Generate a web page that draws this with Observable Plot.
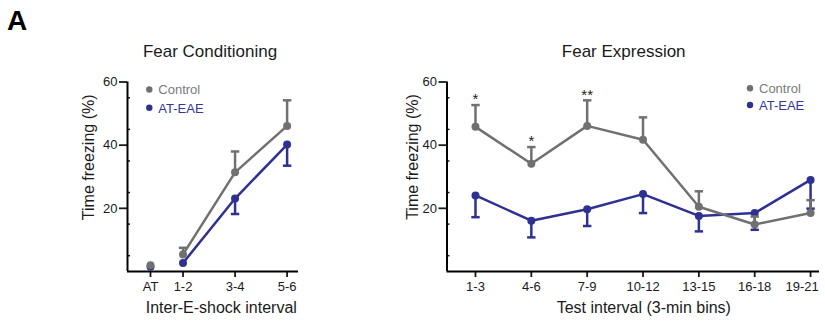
<!DOCTYPE html>
<html><head><meta charset="utf-8">
<script src="https://cdn.jsdelivr.net/npm/d3@7"></script>
<script src="https://cdn.jsdelivr.net/npm/@observablehq/plot@0.6"></script>
<style>
body{margin:0;background:#fff;}
#wrap{position:relative;width:825px;height:328px;overflow:hidden;background:#fff;}
#wrap svg{position:absolute;top:0;}
</style></head><body><div id="wrap"></div>
<script>
// ---- Fear Conditioning (left panel) ----
const fcLabels = ["AT", "1-2", "3-4", "5-6"];
const fcPos = [0, 1, 2.6, 4.2];
const fcControl = [2.0, 5.4, 31.4, 46.1];
const fcControlErr = [null, 2.1, 6.6, 8.1];
const fcAtEae = [1.5, 2.7, 23.1, 40.2];
const fcAtEaeErr = [null, null, 4.9, 6.7];

// ---- Fear Expression (right panel) ----
const feLabels = ["1-3", "4-6", "7-9", "10-12", "13-15", "16-18", "19-21"];
const feControl = [45.8, 34.1, 46.1, 41.7, 20.5, 14.9, 18.5];
const feControlErr = [6.9, 5.3, 8.1, 7.1, 4.9, 2.5, 4.1];
const feAtEae = [24.1, 16.1, 19.7, 24.5, 17.6, 18.5, 29.0];
const feAtEaeErr = [6.9, 5.3, 5.3, 6.0, 4.9, 5.3, 9.1];
const feStars = ["*", "*", "**", "", "", "", ""];

const yMajor = [20, 40, 60];
const yMinor = [5, 15, 25, 35, 45, 55];
const seriesNames = ["Control", "AT-EAE"];

const FONT = '"Liberation Sans", Arial, Helvetica, sans-serif';
const GREY = "#707070", BLUE = "#2e3192";
const INK = "#1a1a1a";

const capSymbol = {draw(ctx, size) { const w = Math.sqrt(size / Math.PI); ctx.moveTo(-w, 0); ctx.lineTo(w, 0); }};

function rowsOf(labels, pos, c, cErr, a, aErr, stars) {
  return labels.map((label, i) => ({label, x: pos[i], control: c[i], controlErr: cErr[i], atEae: a[i], atEaeErr: aErr[i], star: stars ? stars[i] : ""}));
}

const fcRows = rowsOf(fcLabels, fcPos, fcControl, fcControlErr, fcAtEae, fcAtEaeErr);
const feRows = rowsOf(feLabels, feLabels.map((d, i) => i), feControl, feControlErr, feAtEae, feAtEaeErr, feStars);

function seriesMarks(rows, lineRows) {
  const specs = [
    {key: "atEae", err: "atEaeErr", color: BLUE, dir: -1},
    {key: "control", err: "controlErr", color: GREY, dir: 1}
  ];
  const marks = [];
  for (const s of specs) {
    const bars = rows.filter(d => d[s.err] != null);
    const end = d => d[s.key] + s.dir * d[s.err];
    marks.push(
      Plot.ruleX(bars, {x: "x", y1: s.key, y2: end, stroke: s.color, strokeWidth: 2.5}),
      Plot.dot(bars, {x: "x", y: end, symbol: capSymbol, r: 4.2, stroke: s.color, fill: "none", strokeWidth: 2.5}),
      Plot.line(lineRows, {x: "x", y: s.key, stroke: s.color, strokeWidth: 2.5}),
      Plot.dot(rows, {x: "x", y: s.key, r: 4, fill: s.color})
    );
  }
  return marks;
}

function xAxes(rows, lastShift) {
  const fmt = d => rows.find(r => r.x === d).label;
  const common = {tickSize: 6, tickPadding: 4, label: null, fontSize: 13, strokeWidth: 1.8, tickFormat: fmt};
  if (!lastShift) return [Plot.axisX({...common, ticks: rows.map(d => d.x)})];
  const xs = rows.map(d => d.x);
  const last = xs[xs.length - 1];
  return [
    Plot.axisX({...common, ticks: xs.slice(0, -1)}),
    Plot.axisX({...common, ticks: [last], text: null}),
    Plot.axisX({...common, ticks: [last], tickSize: 0, tickPadding: 10, stroke: "none", dx: lastShift})
  ];
}

function panel({width, marginLeft, marginRight, xDomain, rows, lineRows, extra, lastShift}) {
  return Plot.plot({
    width, height: 328,
    marginLeft, marginRight, marginTop: 81.5, marginBottom: 57,
    style: {fontFamily: FONT, fontSize: "13px", color: INK, background: "transparent", overflow: "visible"},
    x: {type: "linear", domain: xDomain, label: null},
    y: {domain: [0, 60], label: null},
    marks: [
      Plot.axisY({ticks: yMinor, tickSize: 3, dx: 3, tickFormat: () => "", label: null, strokeWidth: 1.5}),
      Plot.axisY({ticks: yMajor, tickSize: 8, tickPadding: 2, label: null, fontSize: 13, strokeWidth: 1.8}),
      ...xAxes(rows, lastShift),
      Plot.ruleY([0], {stroke: "#000", strokeWidth: 2}),
      Plot.ruleX([xDomain[0]], {y1: 0, y2: 60, stroke: "#000", strokeWidth: 2}),
      ...seriesMarks(rows, lineRows),
      ...(extra || [])
    ]
  });
}

const wrap = document.getElementById("wrap");

const left = panel({
  width: 330, marginLeft: 127, marginRight: 32,
  xDomain: [-0.707, 4.55],
  rows: fcRows, lineRows: fcRows.filter(d => d.label !== "AT")
});
left.style.left = "0px";
wrap.appendChild(left);

const right = panel({
  width: 495, marginLeft: 116.5, marginRight: 6,
  xDomain: [-0.51, 6.16],
  rows: feRows, lineRows: feRows, lastShift: -8.5,
  extra: [Plot.text(feRows.filter(d => d.star), {x: "x", y: d => d.control + d.controlErr, text: "star", dy: -5.5, fontSize: 15, fill: INK})]
});
right.style.left = "330px";
wrap.appendChild(right);

// ---- overlay text: panel letter, titles, axis titles, legends ----
const svg = d3.select(wrap).append("svg")
  .attr("width", 825).attr("height", 328).style("left", "0px")
  .style("font-family", FONT);

svg.append("text").attr("x", 7).attr("y", 30).attr("font-size", 28).attr("font-weight", "bold").attr("fill", "#000").text("A");

const titles = [
  {t: "Fear Conditioning", x: 210, y: 57},
  {t: "Fear Expression", x: 623.7, y: 57}
];
for (const d of titles) svg.append("text").attr("x", d.x).attr("y", d.y).attr("font-size", 17).attr("text-anchor", "middle").attr("fill", INK).text(d.t);

const xTitles = [
  {t: "Inter-E-shock interval", x: 221.3, y: 313.3},
  {t: "Test interval (3-min bins)", x: 643.8, y: 313.3}
];
for (const d of xTitles) svg.append("text").attr("x", d.x).attr("y", d.y).attr("font-size", 16).attr("text-anchor", "middle").attr("fill", INK).text(d.t);

const yTitles = [{x: 93.5, y: 157.3}, {x: 418.3, y: 157}];
for (const d of yTitles) svg.append("text").attr("transform", `translate(${d.x},${d.y}) rotate(-90)`).attr("font-size", 16).attr("text-anchor", "middle").attr("fill", INK).text("Time freezing (%)");

const legends = [
  {x: 149.3, ys: [89.5, 107.7]},
  {x: 750, ys: [88.3, 105]}
];
const legendColors = [GREY, BLUE];
const legendText = ["#7a7a7a", "#34369a"];
for (const L of legends) {
  seriesNames.forEach((name, i) => {
    svg.append("circle").attr("cx", L.x).attr("cy", L.ys[i]).attr("r", 3.2).attr("fill", legendColors[i]);
    svg.append("text").attr("x", L.x + 9).attr("y", L.ys[i] + 4.8).attr("font-size", 13).attr("fill", legendText[i]).text(name);
  });
}
</script>
</body></html>
